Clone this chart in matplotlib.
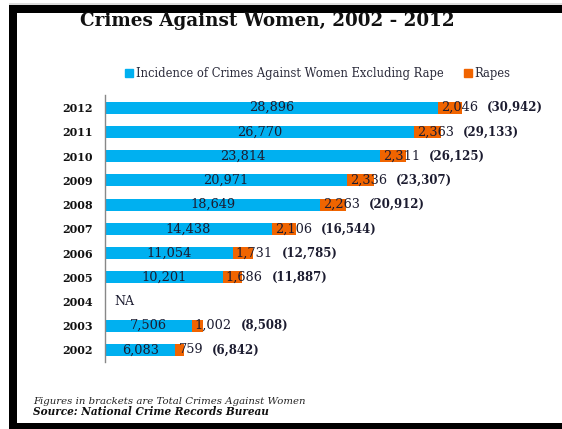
import matplotlib.pyplot as plt
from matplotlib.patches import Rectangle, Patch

# crimes against women by year (NCRB); 2004 not available
years = ['2002', '2003', '2004', '2005', '2006', '2007', '2008', '2009', '2010', '2011', '2012']
other_crimes = [6083, 7506, None, 10201, 11054, 14438, 18649, 20971, 23814, 26770, 28896]
rapes = [759, 1002, None, 1686, 1731, 2106, 2263, 2336, 2311, 2363, 2046]

BLUE = '#00B0F0'
ORANGE = '#F06400'
INK = '#1c1c30'
SERIF = 'DejaVu Serif'

W, H = 562, 429
fig = plt.figure(figsize=(W / 100, H / 100), dpi=100)

# black frame (left, top, bottom)
fig.patches.append(Rectangle((9 / W, 0), 7.7 / W, 1 - 4.5 / H, transform=fig.transFigure,
                             facecolor='black', edgecolor='none'))
fig.patches.append(Rectangle((9 / W, 1 - 12.7 / H), 1, 8.2 / H, transform=fig.transFigure,
                             facecolor='black', edgecolor='none'))
fig.patches.append(Rectangle((9 / W, 0), 1, 5.7 / H, transform=fig.transFigure,
                             facecolor='black', edgecolor='none'))
fig.patches.append(Rectangle((9 / W, 1 - 4.5 / H), 1, 1 / H, transform=fig.transFigure,
                             facecolor='#dddddd', edgecolor='none'))

ax = fig.add_axes([105.3 / W, 1 - 362.3 / H, (W - 105.3) / W, 267.3 / H])
ax.set_xlim(0, (W - 105.3) * 86.78)
ax.set_ylim(-0.508, 10.524)

for i, (b, r) in enumerate(zip(other_crimes, rapes)):
    if b is None:
        ax.text(800, i, 'NA', ha='left', va='center', fontsize=9, family=SERIF, color=INK)
        continue
    ax.barh(i, b, height=0.5, color=BLUE)
    ax.barh(i, r, left=b, height=0.5, color=ORANGE)
    ax.text(b / 2, i, f'{b:,}', ha='center', va='center', fontsize=9.3, family=SERIF, color=INK)
    t = ax.annotate(f'{r:,}', xy=(b, i), xytext=(3, 0), textcoords='offset pixels',
                    ha='left', va='center', fontsize=9.3, family=SERIF, color=INK)
    ax.annotate(f'({b + r:,})', xy=(1, 0.5), xycoords=t, xytext=(9, 0), textcoords='offset pixels',
                ha='left', va='center', fontsize=8.5, family=SERIF, fontweight='bold', color=INK)

ax.set_yticks(range(len(years)))
ax.set_yticklabels(years, fontsize=8, family=SERIF, fontweight='bold', color='#111111')
ax.tick_params(axis='y', length=0, pad=9)
ax.set_xticks([])
for s in ['top', 'right', 'bottom']:
    ax.spines[s].set_visible(False)
ax.spines['left'].set_color('#888888')
ax.spines['left'].set_linewidth(1)

fig.legend(handles=[Patch(color=BLUE, label='Incidence of Crimes Against Women Excluding Rape'),
                    Patch(color=ORANGE, label='Rapes')],
           loc='center', bbox_to_anchor=(318 / W, 1 - 74 / H), ncol=2, frameon=False,
           handlelength=0.7, handleheight=0.7, handletextpad=0.2, columnspacing=1.8,
           prop={'family': SERIF, 'size': 8.3}, labelcolor='#2a2a3a')

fig.text(267.5 / W, 1 - 21 / H, 'Crimes Against Women, 2002 - 2012', ha='center', va='center',
         fontsize=13.2, fontweight='bold', family=SERIF, color='#111111')

fig.text(33 / W, 1 - 402 / H, 'Figures in brackets are Total Crimes Against Women', ha='left', va='center',
         fontsize=7.3, style='italic', family=SERIF, color='#222222')
fig.text(33 / W, 1 - 411.7 / H, 'Source: National Crime Records Bureau', ha='left', va='center',
         fontsize=7.6, style='italic', fontweight='bold', family=SERIF, color='#111111')

fig.savefig('out.png', dpi=100)
